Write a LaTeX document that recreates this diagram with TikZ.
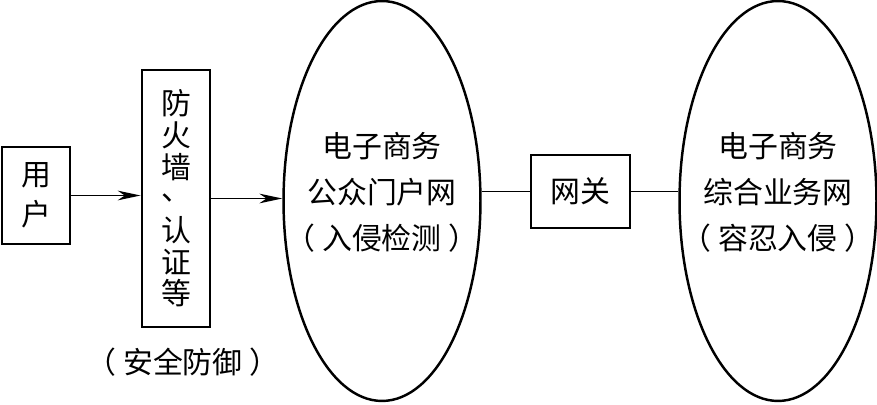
\documentclass[tikz,border=0pt]{standalone}
\usepackage{fontspec}
\setmainfont{Noto Sans CJK SC}
\usetikzlibrary{arrows.meta,shapes.geometric}

\begin{document}
\begin{tikzpicture}[x=0.02cm,y=-0.02cm,
  box/.style={draw,line width=1.6pt,inner sep=0pt,align=center},
  oval/.style={draw,ellipse,line width=1.4pt,inner sep=0pt,minimum width=3.94cm,minimum height=8cm},
  txt/.style={font=\fontsize{17}{26}\selectfont,align=center},
  arr/.style={line width=1.1pt,-{Stealth[length=13pt,width=5.5pt,inset=4pt]}},
  link/.style={line width=1.1pt}]
  \useasboundingbox (0,0) rectangle (877,405);
  % Boxes
  \node[box,minimum width=1.36cm,minimum height=1.94cm,font=\fontsize{17}{22.8}\selectfont] (user) at (36,195.5) {用\\户};
  \node[box,minimum width=1.36cm,minimum height=5.14cm,font=\fontsize{17}{18}\selectfont] (fw) at (176,198.5) {防\\火\\墙\\\raisebox{5.5pt}{、}\\认\\证\\等};
  \node[txt] (fwlbl) at (183,362) {（\kern4pt 安全防御\kern4pt ）};
  \node[box,minimum width=1.98cm,minimum height=1.46cm,font=\fontsize{17}{26}\selectfont] (gw) at (580.5,191.5) {网关};
  % Networks
  \node[oval] (pub) at (382,201) {};
  \node[txt] (pubtxt) at (382,192.5) {电子商务\\公众门户网\\（\kern4pt 入侵检测\kern4pt ）};
  \node[oval] (biz) at (778,201) {};
  \node[txt] (biztxt) at (778,192.5) {电子商务\\综合业务网\\（\kern4pt 容忍入侵\kern4pt ）};
  % Connections
  \draw[arr] (user.east) -- (user.east -| fw.west);
  \draw[arr] (fw.east) -- (fw.east -| pub.west);
  \draw[link] (pub.east |- gw.west) -- (gw.west);
  \draw[link] (gw.east) -- (gw.east -| biz.west);
\end{tikzpicture}
\end{document}
